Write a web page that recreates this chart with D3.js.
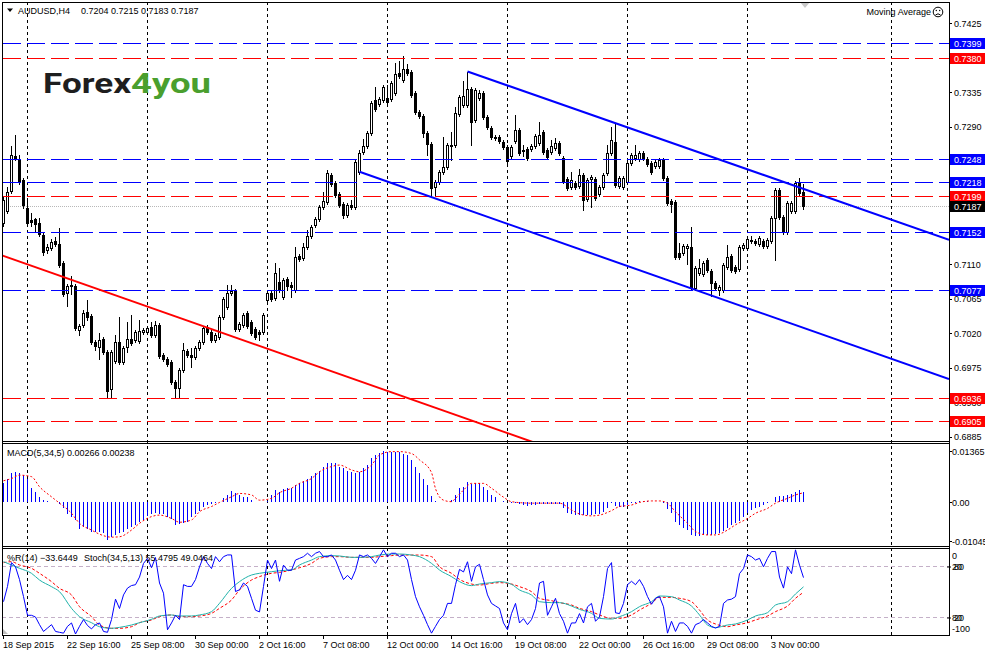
<!DOCTYPE html>
<html>
<head>
<meta charset="utf-8">
<title>AUDUSD H4</title>
<script src="https://d3js.org/d3.v7.min.js"></script>
<style>
  body { margin: 0; background: #fff; }
  svg { display: block; }
  text { font-family: "Liberation Sans", Arial, sans-serif; font-size: 9px; fill: #000; }
</style>
</head>
<body>
<svg id="chart" width="985" height="653"></svg>
<script>
// AUDUSD H4, 201 bars from 18 Sep 2015 00:00 to 4 Nov 2015 08:00
const opens = [
  0.7164,0.7180,0.7206,0.7252,0.7248,0.7220,0.7184,0.7168,0.7169,0.7164,
  0.7148,0.7129,0.7131,0.7141,0.7137,0.7112,0.7073,0.7082,0.7082,0.7024,
  0.7031,0.7048,0.7043,0.7009,0.7002,0.7012,0.6995,0.6947,0.6984,0.7009,
  0.6982,0.7002,0.7012,0.7011,0.7010,0.7022,0.7022,0.7028,0.7018,0.7031,
  0.6992,0.6986,0.6982,0.6956,0.6948,0.6972,0.6997,0.6992,0.6989,0.7001,
  0.7009,0.7028,0.7022,0.7011,0.7015,0.7041,0.7054,0.7073,0.7075,0.7026,
  0.7031,0.7046,0.7035,0.7026,0.7022,0.7022,0.7063,0.7073,0.7066,0.7087,
  0.7067,0.7091,0.7083,0.7077,0.7121,0.7118,0.7133,0.7147,0.7161,0.7169,
  0.7185,0.7192,0.7227,0.7216,0.7202,0.7189,0.7175,0.7188,0.7185,0.7231,
  0.7257,0.7265,0.7282,0.7325,0.7320,0.7325,0.7327,0.7326,0.7334,0.7360,
  0.7351,0.7365,0.7361,0.7334,0.7309,0.7304,0.7282,0.7267,0.7211,0.7218,
  0.7231,0.7237,0.7265,0.7266,0.7307,0.7318,0.7318,0.7339,0.7299,0.7327,
  0.7334,0.7303,0.7288,0.7276,0.7276,0.7270,0.7263,0.7252,0.7271,0.7286,
  0.7258,0.7261,0.7261,0.7265,0.7269,0.7283,0.7259,0.7257,0.7262,0.7269,
  0.7249,0.7222,0.7211,0.7216,0.7212,0.7227,0.7195,0.7222,0.7222,0.7202,
  0.7211,0.7229,0.7256,0.7270,0.7212,0.7211,0.7218,0.7243,0.7249,0.7248,
  0.7256,0.7248,0.7243,0.7239,0.7239,0.7246,0.7223,0.7193,0.7192,0.7125,
  0.7125,0.7131,0.7133,0.7079,0.7099,0.7097,0.7116,0.7101,0.7086,0.7077,
  0.7077,0.7107,0.7121,0.7107,0.7104,0.7131,0.7131,0.7141,0.7141,0.7137,
  0.7141,0.7134,0.7141,0.7171,0.7207,0.7172,0.7152,0.7180,0.7180,0.7216,
  0.7204
];
const highs = [
  0.7199,0.7211,0.7265,0.7279,0.7253,0.7223,0.7197,0.7177,0.7171,0.7171,
  0.7151,0.7137,0.7143,0.7146,0.7158,0.7114,0.7084,0.7095,0.7084,0.7032,
  0.7050,0.7063,0.7045,0.7011,0.7020,0.7015,0.6998,0.6998,0.7018,0.7041,
  0.7003,0.7035,0.7044,0.7024,0.7037,0.7027,0.7029,0.7035,0.7036,0.7033,
  0.6994,0.6989,0.6985,0.6959,0.6975,0.7007,0.6999,0.7001,0.7003,0.7011,
  0.7029,0.7031,0.7024,0.7020,0.7044,0.7067,0.7083,0.7083,0.7078,0.7035,
  0.7046,0.7049,0.7037,0.7028,0.7024,0.7046,0.7075,0.7075,0.7112,0.7105,
  0.7092,0.7094,0.7087,0.7133,0.7124,0.7138,0.7155,0.7161,0.7172,0.7188,
  0.7205,0.7233,0.7229,0.7219,0.7205,0.7192,0.7190,0.7194,0.7246,0.7259,
  0.7274,0.7284,0.7324,0.7342,0.7329,0.7344,0.7344,0.7350,0.7373,0.7376,
  0.7382,0.7372,0.7364,0.7337,0.7312,0.7307,0.7284,0.7270,0.7220,0.7233,
  0.7276,0.7269,0.7283,0.7316,0.7331,0.7350,0.7361,0.7342,0.7341,0.7338,
  0.7337,0.7305,0.7291,0.7279,0.7279,0.7273,0.7266,0.7266,0.7305,0.7288,
  0.7266,0.7263,0.7267,0.7280,0.7296,0.7286,0.7262,0.7273,0.7275,0.7271,
  0.7252,0.7224,0.7231,0.7219,0.7235,0.7229,0.7223,0.7227,0.7224,0.7214,
  0.7229,0.7266,0.7290,0.7295,0.7226,0.7226,0.7245,0.7256,0.7266,0.7258,
  0.7258,0.7250,0.7245,0.7246,0.7249,0.7249,0.7226,0.7195,0.7194,0.7138,
  0.7137,0.7137,0.7159,0.7108,0.7117,0.7114,0.7118,0.7104,0.7088,0.7083,
  0.7112,0.7135,0.7124,0.7109,0.7135,0.7138,0.7146,0.7147,0.7143,0.7147,
  0.7143,0.7144,0.7173,0.7210,0.7210,0.7175,0.7193,0.7193,0.7219,0.7223,
  0.7215
];
const lows = [
  0.7160,0.7177,0.7203,0.7246,0.7215,0.7184,0.7161,0.7160,0.7154,0.7147,
  0.7122,0.7125,0.7129,0.7134,0.7107,0.7069,0.7056,0.7071,0.7024,0.7018,
  0.7028,0.7037,0.7006,0.6998,0.6986,0.6993,0.6936,0.6936,0.6981,0.6980,
  0.6980,0.6995,0.7005,0.7009,0.7007,0.7019,0.7019,0.7015,0.7015,0.6988,
  0.6984,0.6977,0.6954,0.6936,0.6936,0.6969,0.6989,0.6976,0.6986,0.6998,
  0.7006,0.7019,0.7009,0.7009,0.7012,0.7039,0.7052,0.7070,0.7023,0.7023,
  0.7028,0.7027,0.7018,0.7012,0.7011,0.7019,0.7061,0.7062,0.7063,0.7074,
  0.7065,0.7077,0.7067,0.7074,0.7114,0.7116,0.7130,0.7144,0.7159,0.7167,
  0.7182,0.7189,0.7212,0.7198,0.7185,0.7171,0.7172,0.7182,0.7182,0.7228,
  0.7254,0.7262,0.7279,0.7310,0.7317,0.7322,0.7320,0.7324,0.7331,0.7354,
  0.7348,0.7358,0.7329,0.7307,0.7301,0.7276,0.7253,0.7199,0.7199,0.7215,
  0.7228,0.7235,0.7246,0.7263,0.7304,0.7316,0.7316,0.7266,0.7296,0.7325,
  0.7300,0.7287,0.7274,0.7273,0.7269,0.7261,0.7243,0.7249,0.7269,0.7253,
  0.7252,0.7246,0.7258,0.7262,0.7266,0.7254,0.7248,0.7254,0.7259,0.7253,
  0.7216,0.7207,0.7209,0.7209,0.7210,0.7181,0.7193,0.7185,0.7194,0.7199,
  0.7209,0.7227,0.7253,0.7211,0.7210,0.7209,0.7215,0.7240,0.7246,0.7245,
  0.7246,0.7239,0.7228,0.7236,0.7236,0.7220,0.7188,0.7178,0.7117,0.7117,
  0.7122,0.7110,0.7077,0.7077,0.7096,0.7095,0.7100,0.7069,0.7077,0.7070,
  0.7074,0.7104,0.7100,0.7099,0.7101,0.7129,0.7129,0.7138,0.7135,0.7134,
  0.7131,0.7131,0.7138,0.7116,0.7169,0.7150,0.7150,0.7177,0.7177,0.7201,
  0.7183
];
const closes = [
  0.7194,0.7205,0.7253,0.7249,0.7218,0.7188,0.7164,0.7165,0.7163,0.7150,
  0.7126,0.7133,0.7139,0.7137,0.7109,0.7071,0.7082,0.7083,0.7027,0.7029,
  0.7046,0.7041,0.7009,0.7003,0.7011,0.6995,0.6945,0.6995,0.7009,0.6982,
  0.7001,0.7012,0.7007,0.7022,0.7023,0.7024,0.7027,0.7018,0.7031,0.6990,
  0.6986,0.6980,0.6956,0.6948,0.6972,0.6998,0.6992,0.6989,0.7001,0.7009,
  0.7027,0.7022,0.7011,0.7018,0.7041,0.7065,0.7073,0.7075,0.7026,0.7032,
  0.7044,0.7029,0.7020,0.7015,0.7019,0.7044,0.7073,0.7065,0.7099,0.7077,
  0.7090,0.7082,0.7080,0.7120,0.7117,0.7133,0.7147,0.7159,0.7169,0.7185,
  0.7193,0.7229,0.7215,0.7201,0.7188,0.7175,0.7188,0.7185,0.7244,0.7256,
  0.7265,0.7282,0.7321,0.7313,0.7326,0.7342,0.7322,0.7347,0.7359,0.7356,
  0.7365,0.7360,0.7331,0.7309,0.7304,0.7282,0.7267,0.7210,0.7218,0.7231,
  0.7237,0.7266,0.7266,0.7308,0.7329,0.7330,0.7339,0.7296,0.7338,0.7334,
  0.7303,0.7290,0.7276,0.7275,0.7271,0.7263,0.7245,0.7263,0.7286,0.7256,
  0.7259,0.7249,0.7265,0.7278,0.7279,0.7257,0.7250,0.7265,0.7269,0.7256,
  0.7219,0.7210,0.7220,0.7211,0.7227,0.7194,0.7220,0.7224,0.7197,0.7211,
  0.7227,0.7256,0.7273,0.7214,0.7223,0.7223,0.7243,0.7253,0.7253,0.7256,
  0.7249,0.7241,0.7231,0.7244,0.7246,0.7223,0.7190,0.7189,0.7120,0.7120,
  0.7134,0.7134,0.7079,0.7105,0.7105,0.7112,0.7103,0.7086,0.7079,0.7080,
  0.7109,0.7120,0.7103,0.7101,0.7133,0.7135,0.7143,0.7142,0.7138,0.7144,
  0.7134,0.7142,0.7171,0.7207,0.7172,0.7152,0.7190,0.7190,0.7216,0.7203,
  0.7187
];

// MACD(5,34,5) histogram, one value per bar
const macdHist = [
  0.0051,0.0062,0.0076,0.0080,0.0078,0.0071,0.0062,0.0036,0.0027,0.0013,
  0.0004,0.0001,0.0000,-0.0002,-0.0007,-0.0018,-0.0033,-0.0042,-0.0049,-0.0074,
  -0.0069,-0.0074,-0.0080,-0.0080,-0.0080,-0.0083,-0.0103,-0.0094,-0.0089,-0.0085,
  -0.0080,-0.0074,-0.0069,-0.0062,-0.0054,-0.0049,-0.0038,-0.0033,-0.0031,-0.0033,
  -0.0033,-0.0040,-0.0047,-0.0062,-0.0060,-0.0056,-0.0054,-0.0042,-0.0033,-0.0025,
  -0.0013,-0.0009,-0.0006,-0.0003,-0.0001,0.0009,0.0018,0.0029,0.0022,0.0018,
  0.0013,0.0012,0.0004,0.0000,-0.0002,0.0000,0.0003,0.0018,0.0031,0.0027,
  0.0033,0.0036,0.0037,0.0045,0.0049,0.0056,0.0062,0.0069,0.0076,0.0083,
  0.0092,0.0103,0.0104,0.0103,0.0094,0.0089,0.0083,0.0080,0.0078,0.0080,
  0.0089,0.0098,0.0116,0.0125,0.0131,0.0136,0.0134,0.0134,0.0134,0.0132,
  0.0129,0.0125,0.0112,0.0094,0.0076,0.0062,0.0045,0.0016,0.0002,0.0000,
  -0.0002,0.0000,0.0004,0.0018,0.0036,0.0040,0.0052,0.0047,0.0049,0.0049,
  0.0040,0.0031,0.0018,0.0012,0.0000,0.0002,0.0000,-0.0004,-0.0004,-0.0007,
  -0.0009,-0.0011,-0.0009,-0.0009,-0.0007,-0.0007,-0.0005,-0.0005,-0.0006,-0.0007,
  -0.0018,-0.0031,-0.0034,-0.0036,-0.0037,-0.0037,-0.0037,-0.0036,-0.0034,-0.0034,
  -0.0027,-0.0018,-0.0004,-0.0011,-0.0013,-0.0013,-0.0009,-0.0004,-0.0003,0.0003,
  0.0002,0.0001,0.0000,0.0000,-0.0002,-0.0004,-0.0020,-0.0031,-0.0054,-0.0062,
  -0.0071,-0.0076,-0.0089,-0.0091,-0.0091,-0.0089,-0.0089,-0.0089,-0.0087,-0.0085,
  -0.0079,-0.0071,-0.0062,-0.0056,-0.0051,-0.0040,-0.0031,-0.0022,-0.0018,-0.0013,
  -0.0009,-0.0004,0.0000,0.0013,0.0016,0.0016,0.0018,0.0020,0.0027,0.0031,
  0.00266
];
// MACD signal line, read at these bars
const macdSigBars = [0,2,4,7,9,12,14,17,19,22,24,27,29,32,34,37,39,42,44,47,49,52,54,57,59,62,64,67,69,72,
  74,77,79,82,84,87,89,92,94,97,99,102,104,107,108,110,112,113,115,117,120,122,125,127,132,136,139,142,144,147,
  149,152,154,157,159,162,164,166,168,171,173,176,178,181,183,186,188,191,193,196,198,200];
const macdSigValues = [0.0056,0.0062,0.0071,0.0067,0.0040,0.0013,-0.0004,-0.0031,-0.0058,-0.0076,
  -0.0087,-0.0095,-0.0094,-0.0076,-0.0058,-0.0040,-0.0036,-0.0045,-0.0055,-0.0049,
  -0.0027,-0.0013,-0.0002,0.0013,0.0022,0.0018,0.0004,0.0009,0.0024,0.0036,
  0.0049,0.0062,0.0080,0.0094,0.0098,0.0085,0.0080,0.0098,0.0125,0.0134,
  0.0134,0.0129,0.0112,0.0078,0.0035,0.0004,0.0000,0.0009,0.0031,0.0049,
  0.0049,0.0036,0.0012,0.0000,-0.0004,-0.0004,-0.0004,-0.0022,-0.0033,-0.0038,
  -0.0036,-0.0024,-0.0013,-0.0009,-0.0002,0.0002,0.0002,-0.0004,-0.0027,-0.0058,
  -0.0080,-0.0089,-0.0089,-0.0076,-0.0062,-0.0045,-0.0031,-0.0018,-0.0004,0.0009,
  0.0018,0.00238];

// Williams %R(14), one value per bar
const wpr = [
  -62,-44,-16,-21,-36,-56,-78,-78,-80,-89,
  -97,-93,-89,-97,-98,-99,-91,-87,-100,-91,
  -83,-90,-94,-89,-87,-97,-98,-83,-59,-70,
  -54,-46,-43,-42,-33,-17,-11,-22,-10,-40,
  -52,-95,-87,-78,-83,-42,-44,-44,-36,-21,
  -9,-17,-23,-9,-15,-9,-7,-7,-50,-48,
  -40,-44,-58,-72,-74,-44,-13,-23,-13,-38,
  -19,-25,-25,-13,-11,-9,-5,-9,-5,-3,
  -9,-9,-7,-13,-25,-36,-31,-36,-25,-7,
  -9,-7,-11,-17,-9,-1,-9,-5,-5,-9,
  -7,-13,-36,-56,-68,-78,-89,-99,-91,-83,
  -78,-64,-64,-42,-24,-27,-15,-38,-21,-18,
  -36,-54,-64,-67,-70,-87,-95,-76,-64,-87,
  -82,-89,-83,-70,-40,-38,-78,-68,-58,-76,
  -85,-99,-87,-87,-76,-87,-68,-64,-85,-80,
  -56,-23,-16,-75,-76,-64,-42,-38,-42,-36,
  -44,-56,-65,-58,-56,-68,-99,-85,-97,-87,
  -87,-91,-99,-89,-87,-83,-87,-91,-93,-91,
  -64,-60,-59,-56,-29,-23,-7,-9,-13,-11,
  -21,-11,-3,-3,-33,-46,-21,-29,-1,-19,
  -33.6449
];

// Stochastic(34,5,13), read at these bars
const stochBars = [0,2,4,7,9,12,14,17,19,22,24,27,29,32,34,37,39,42,44,47,49,52,54,57,59,62,64,67,69,72,
  74,77,79,82,84,87,89,92,94,97,99,102,104,107,109,112,114,117,119,122,124,127,129,132,134,137,139,142,144,147,
  149,152,154,157,159,162,164,167,169,172,174,176,178,181,183,186,188,191,193,196,198,200];
const stochMain = [85.1,81.2,77.3,71.4,63.5,55.7,49.8,30.2,20.4,13.3,
  8.6,6.7,7.8,10.6,13.3,17.3,21.2,22.4,21.2,21.2,
  22.4,26.3,36.1,53.7,61.6,69.4,71.4,73.3,74.5,75.3,
  81.2,87.0,91.0,92.2,91.8,90.2,90.2,91.0,92.9,94.1,
  94.1,92.9,91.0,83.1,75.3,67.5,61.6,56.9,58.8,60.4,
  61.6,58.4,51.8,45.9,38.0,36.9,36.9,32.9,29.0,24.3,
  18.4,17.6,20.4,26.3,32.2,38.0,44.7,43.9,40.0,32.9,
  22.4,10.6,7.5,10.6,11.8,16.5,21.2,25.1,34.1,38.0,
  47.1,55.4795];
const stochSignal = [83.9,85.1,81.2,77.3,71.4,61.6,53.7,45.9,32.2,20.4,
  10.6,6.7,6.7,8.6,13.3,16.5,20.4,22.4,20.4,20.4,
  21.2,24.3,30.2,40.0,51.8,63.5,67.5,71.4,72.5,75.3,
  78.0,83.1,89.0,91.0,91.0,90.2,90.2,90.2,91.0,92.2,
  92.9,92.9,92.9,91.0,79.2,71.4,64.3,58.8,57.6,59.6,
  60.4,58.8,55.7,49.8,42.0,39.2,36.9,34.1,30.2,26.3,
  22.4,18.4,18.4,22.4,28.2,36.1,43.1,43.1,42.0,38.0,
  28.2,16.5,11.8,8.6,10.6,13.3,16.5,21.2,26.3,32.9,
  42.0,49.0464];

// horizontal levels and trend lines ([bar, price] anchors)
const blueLevels = [0.7399, 0.7248, 0.7218, 0.7152, 0.7077];
const redLevels = [0.7380, 0.7199, 0.6936, 0.6905];
const redTrend = [[-1, 0.7123], [128, 0.6886]];
const channelTop = [[116, 0.7362], [236, 0.7143]];
const channelBottom = [[89, 0.7231], [236, 0.6961]];

// axes
const priceTicks = [0.7425,0.7380,0.7335,0.7290,0.7245,0.7200,0.7155,0.7110,0.7065,0.7020,0.6975,0.6930,0.6885];
const macdTicks = [0.01365, 0, -0.01045];
const macdTickLabels = ["0.01365", "0.00", "-0.01045"];
const oscLevels = [80, 20];
const timeTickBars = [0,16,32,48,64,80,96,112,128,144,160,176,192];
const timeTickLabels = ["18 Sep 2015","22 Sep 16:00","25 Sep 08:00","30 Sep 00:00","2 Oct 16:00","7 Oct 08:00",
  "12 Oct 00:00","14 Oct 16:00","19 Oct 08:00","22 Oct 00:00","26 Oct 16:00","29 Oct 08:00","3 Nov 00:00"];
const gridBars = [6,36,66,96,126,156,186,222];

const svg = d3.select("#chart");
const plotL = 2, plotR = 949;
const mainTop = 2, mainBot = 441, macdTop = 443, macdBot = 546, oscTop = 548, oscBot = 635;

const x = d3.scaleLinear().domain([0, 200]).range([3.5, 803.5]);
const y = d3.scaleLinear().domain([0.7425, 0.6885]).range([23.3, 436.7]);
const yMacd = d3.scaleLinear().domain([0.01365, -0.01045]).range([450.7, 540.7]);
const yOsc = d3.scaleLinear().domain([100, 0]).range([549, 634]);
const px = i => Math.floor(x(i));
const fmt4 = d3.format(".4f");
const last = closes.length - 1;

svg.append("rect").attr("width", 985).attr("height", 653).attr("fill", "#fff");

const defs = svg.append("defs");
function addClip(id, y0, y1) {
  defs.append("clipPath").attr("id", id).append("rect")
    .attr("x", plotL + 1).attr("y", y0 + 1).attr("width", plotR - plotL - 1).attr("height", y1 - y0 - 1);
}
addClip("clipMain", mainTop, mainBot);
addClip("clipMacd", macdTop, macdBot);
addClip("clipOsc", oscTop, oscBot);

// vertical grid through all panels
svg.append("g").selectAll("line").data(gridBars).join("line")
  .attr("x1", d => px(d) + 0.5).attr("x2", d => px(d) + 0.5)
  .attr("y1", mainTop).attr("y2", oscBot)
  .attr("stroke", "#000").attr("stroke-dasharray", "3,3").attr("shape-rendering", "crispEdges");

const gMain = svg.append("g").attr("clip-path", "url(#clipMain)");

// bid line
gMain.append("line")
  .attr("x1", plotL).attr("x2", plotR)
  .attr("y1", Math.round(y(closes[last])) + 0.5).attr("y2", Math.round(y(closes[last])) + 0.5)
  .attr("stroke", "#b8b8b8").attr("stroke-dasharray", "1,1").attr("shape-rendering", "crispEdges");

// candles
const candles = gMain.append("g").attr("shape-rendering", "crispEdges");
d3.range(opens.length).forEach(i => {
  const cx = px(i);
  const yo = Math.round(y(opens[i])), yc = Math.round(y(closes[i]));
  candles.append("line")
    .attr("x1", cx + 0.5).attr("x2", cx + 0.5)
    .attr("y1", Math.round(y(highs[i]))).attr("y2", Math.round(y(lows[i])) + 1)
    .attr("stroke", "#000");
  if (closes[i] > opens[i]) {
    candles.append("rect")
      .attr("x", cx - 0.5).attr("y", yc + 0.5)
      .attr("width", 2).attr("height", Math.max(0, yo - yc))
      .attr("fill", "#fff").attr("stroke", "#000");
  } else {
    candles.append("rect")
      .attr("x", cx - 1).attr("y", yo)
      .attr("width", 3).attr("height", Math.max(1, yc - yo + 1))
      .attr("fill", "#000");
  }
});

// horizontal levels
function drawLevels(levels, color) {
  gMain.append("g").selectAll("line").data(levels).join("line")
    .attr("x1", plotL + 1).attr("x2", plotR)
    .attr("y1", d => Math.round(y(d)) + 0.5).attr("y2", d => Math.round(y(d)) + 0.5)
    .attr("stroke", color).attr("stroke-dasharray", "18,6").attr("shape-rendering", "crispEdges");
}
drawLevels(blueLevels, "#0000ff");
drawLevels(redLevels, "#ff0000");

// trend lines as rays to the right edge
const barEnd = x.invert(plotR);
function ray(a) {
  const slope = (a[1][1] - a[0][1]) / (a[1][0] - a[0][0]);
  return [a[0], [barEnd, a[0][1] + slope * (barEnd - a[0][0])]];
}
const priceLine = d3.line().x(d => x(d[0])).y(d => y(d[1]));
[[redTrend, "#ff0000"], [channelTop, "#0000ff"], [channelBottom, "#0000ff"]].forEach(([t, c]) => {
  gMain.append("path").attr("d", priceLine(ray(t)))
    .attr("fill", "none").attr("stroke", c).attr("stroke-width", 2);
});

// logo
svg.append("text").attr("x", 43).attr("y", 93).text("Forex")
  .attr("textLength", 88).attr("lengthAdjust", "spacingAndGlyphs")
  .style("font-family", "Roboto, 'Liberation Sans', sans-serif").style("font-weight", 700)
  .style("font-size", "27px").style("fill", "#1e1e1e");
svg.append("text").attr("x", 131).attr("y", 93).text("4you")
  .attr("textLength", 80).attr("lengthAdjust", "spacingAndGlyphs")
  .style("font-family", "Roboto, 'Liberation Sans', sans-serif").style("font-weight", 700)
  .style("font-size", "27px").style("fill", "#4a9f2e");

// header
svg.append("path").attr("d", "M7,8.5 L13,8.5 L10,12 Z").attr("fill", "#000");
svg.append("text").attr("x", 18).attr("y", 10.5).attr("dominant-baseline", "central").text("AUDUSD,H4");
svg.append("text").attr("x", 81).attr("y", 10.5).attr("dominant-baseline", "central")
  .text([opens[last], highs[last], lows[last], closes[last]].map(fmt4).join(" "));
svg.append("text").attr("x", 931).attr("y", 12).attr("dominant-baseline", "central")
  .attr("text-anchor", "end").text("Moving Average");
const face = svg.append("g").attr("fill", "none").attr("stroke", "#000");
face.append("circle").attr("cx", 938).attr("cy", 12).attr("r", 4.8);
face.append("path").attr("d", "M935.5,15 Q938,12.6 940.5,15");
svg.append("circle").attr("cx", 936.3).attr("cy", 10.5).attr("r", 0.7).attr("fill", "#000");
svg.append("circle").attr("cx", 939.7).attr("cy", 10.5).attr("r", 0.7).attr("fill", "#000");
svg.append("path").attr("d", "M800,2 L810,2 L805,8 Z").attr("fill", "#c8c8c8");

// MACD panel
const gMacd = svg.append("g").attr("clip-path", "url(#clipMacd)");
gMacd.append("g").attr("shape-rendering", "crispEdges").selectAll("line").data(macdHist).join("line")
  .attr("x1", (d, i) => px(i) + 0.5).attr("x2", (d, i) => px(i) + 0.5)
  .attr("y1", Math.round(yMacd(0))).attr("y2", d => Math.round(yMacd(d)))
  .attr("stroke", "#0000ff");
gMacd.append("path")
  .attr("d", d3.line().curve(d3.curveMonotoneX).x(d => x(d[0])).y(d => yMacd(d[1]))(
    macdSigBars.map((b, k) => [b, macdSigValues[k]])))
  .attr("fill", "none").attr("stroke", "#ff0000").attr("stroke-dasharray", "2,2");
svg.append("text").attr("x", 7).attr("y", 452.5).attr("dominant-baseline", "central")
  .text("MACD(5,34,5) " + d3.format(".5f")(macdHist[last]) + " " + d3.format(".5f")(macdSigValues[macdSigValues.length - 1]));

// oscillator panel
const gOsc = svg.append("g").attr("clip-path", "url(#clipOsc)");
gOsc.append("g").selectAll("line").data(oscLevels).join("line")
  .attr("x1", plotL).attr("x2", plotR)
  .attr("y1", d => Math.round(yOsc(d)) + 0.5).attr("y2", d => Math.round(yOsc(d)) + 0.5)
  .attr("stroke", "#c4b0c8").attr("stroke-dasharray", "4,3").attr("shape-rendering", "crispEdges");
const stochLine = d3.line().curve(d3.curveMonotoneX).x(d => x(d[0])).y(d => yOsc(d[1]));
gOsc.append("path").attr("d", stochLine(stochBars.map((b, k) => [b, stochSignal[k]])))
  .attr("fill", "none").attr("stroke", "#ff0000").attr("stroke-dasharray", "3,2");
gOsc.append("path").attr("d", stochLine(stochBars.map((b, k) => [b, stochMain[k]])))
  .attr("fill", "none").attr("stroke", "#20b2aa");
gOsc.append("path")
  .attr("d", d3.line().x((d, i) => x(i)).y(d => yOsc(d + 100))(wpr))
  .attr("fill", "none").attr("stroke", "#0000ff");
svg.append("path").attr("d", "M3,634 L3,629 L8,634 Z").attr("fill", "#c0c0c0");
svg.append("text").attr("x", 7).attr("y", 557.5).attr("dominant-baseline", "central")
  .text("%R(14) " + d3.format(".4f")(wpr[last]));
svg.append("text").attr("x", 84).attr("y", 557.5).attr("dominant-baseline", "central")
  .text("Stoch(34,5,13) " + d3.format(".4f")(stochMain[stochMain.length - 1]) + " " + d3.format(".4f")(stochSignal[stochSignal.length - 1]));

// frames
const frame = svg.append("g").attr("stroke", "#000").attr("shape-rendering", "crispEdges");
frame.append("line").attr("x1", plotL + 0.5).attr("x2", plotL + 0.5).attr("y1", mainTop).attr("y2", oscBot + 1);
frame.append("line").attr("x1", plotR + 0.5).attr("x2", plotR + 0.5).attr("y1", mainTop).attr("y2", oscBot + 1);
[mainTop, mainBot, macdTop, macdBot, oscTop, oscBot].forEach(v => {
  frame.append("line").attr("x1", plotL).attr("x2", plotR + 1).attr("y1", v + 0.5).attr("y2", v + 0.5);
});

// price axis; labels that sit fully under a price tag are not drawn
const tagPrices = blueLevels.concat(redLevels, [closes[last]]);
const visibleTicks = priceTicks.filter(t => !tagPrices.some(p => Math.abs(y(p) - y(t)) < 3));
const axis = svg.append("g");
axis.selectAll("line").data(priceTicks).join("line")
  .attr("x1", plotR + 1).attr("x2", plotR + 3)
  .attr("y1", d => Math.round(y(d)) + 0.5).attr("y2", d => Math.round(y(d)) + 0.5)
  .attr("stroke", "#000").attr("shape-rendering", "crispEdges");
axis.selectAll("text").data(visibleTicks).join("text")
  .attr("x", 954).attr("y", d => y(d) + 0.5).attr("dominant-baseline", "central").text(fmt4);

// price tags
function tag(v, color) {
  const yy = Math.round(y(v));
  svg.append("rect").attr("x", plotR + 1).attr("y", yy - 5).attr("width", 36).attr("height", 11).attr("fill", color);
  svg.append("text").attr("x", 954).attr("y", yy + 0.8).attr("dominant-baseline", "central")
    .style("fill", "#fff").text(fmt4(v));
}
blueLevels.forEach(v => tag(v, "#0000ff"));
redLevels.forEach(v => tag(v, "#ff0000"));
tag(closes[last], "#000000");

// MACD axis
macdTicks.forEach((v, k) => {
  const yy = Math.round(yMacd(v)) + 0.5;
  svg.append("line").attr("x1", plotR + 1).attr("x2", plotR + 3).attr("y1", yy).attr("y2", yy).attr("stroke", "#000");
  svg.append("text").attr("x", 952).attr("y", yy).attr("dominant-baseline", "central").text(macdTickLabels[k]);
});

// oscillator axis: stochastic and %R level labels share the same rows
svg.append("text").attr("x", 952).attr("y", 555.5).attr("dominant-baseline", "central").text("0");
svg.append("text").attr("x", 952).attr("y", 629).attr("dominant-baseline", "central").text("-100");
oscLevels.forEach(v => {
  const yy = yOsc(v) + 0.5;
  svg.append("line").attr("x1", plotR - 2).attr("x2", plotR + 2).attr("y1", Math.round(yy)).attr("y2", Math.round(yy)).attr("stroke", "#000");
  svg.append("text").attr("x", 952).attr("y", yy).attr("dominant-baseline", "central").text(String(100 - v));
  svg.append("text").attr("x", 954).attr("y", yy).attr("dominant-baseline", "central").text(String(v));
});

// time axis
svg.append("g").selectAll("line").data(timeTickBars).join("line")
  .attr("x1", d => px(d) + 0.5).attr("x2", d => px(d) + 0.5)
  .attr("y1", oscBot + 1).attr("y2", oscBot + 4)
  .attr("stroke", "#000").attr("shape-rendering", "crispEdges");
svg.append("g").selectAll("text").data(timeTickLabels).join("text")
  .attr("x", (d, k) => px(timeTickBars[k])).attr("y", 644.5)
  .attr("dominant-baseline", "central").text(d => d);
</script>
</body>
</html>
